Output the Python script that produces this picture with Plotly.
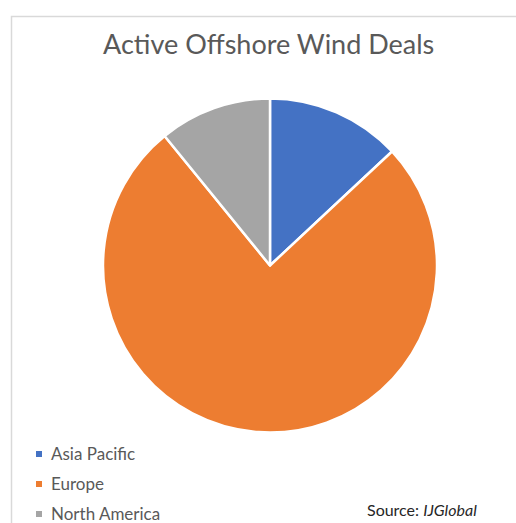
import plotly.graph_objects as go

# Deal counts by region
regions = ["Asia Pacific", "Europe", "North America"]
deals = [6, 35, 5]
colors = ["#4472C4", "#ED7D31", "#A5A5A5"]

W, H = 516, 523

def px(x):
    return x / W

def py(y):
    return 1 - y / H

cx, cy, r = 270, 265.5, 167

fig = go.Figure(
    go.Pie(
        labels=regions,
        values=deals,
        marker=dict(colors=colors, line=dict(color="white", width=2.5)),
        sort=False,
        direction="clockwise",
        rotation=0,
        textinfo="none",
        hoverinfo="label+value+percent",
        showlegend=False,
        domain=dict(x=[px(cx - r), px(cx + r)], y=[py(cy + r), py(cy - r)]),
    )
)

shapes = [
    # chart area frame
    dict(type="rect", xref="paper", yref="paper",
         x0=px(11.5), x1=px(W + 20), y0=py(H + 20), y1=py(16.5),
         line=dict(color="#D9D9D9", width=1.5), fillcolor="rgba(0,0,0,0)", layer="below"),
]
annotations = [
    dict(text="Active Offshore Wind Deals", xref="paper", yref="paper",
         x=px(268.5), y=py(43), xanchor="center", yanchor="middle", showarrow=False,
         font=dict(family="Lato", size=27, color="#595959")),
    dict(text="Source: <i>IJGlobal</i>", xref="paper", yref="paper",
         x=px(365), y=py(509), xanchor="left", yanchor="middle", showarrow=False,
         font=dict(family="Lato", size=16, color="#262626")),
]

# legend entries
row0, gap = 453, 30
for i, (name, col) in enumerate(zip(regions, colors)):
    yc = row0 + i * gap
    shapes.append(dict(type="rect", xref="paper", yref="paper",
                       x0=px(36), x1=px(42), y0=py(yc + 4), y1=py(yc - 2),
                       fillcolor=col, line=dict(width=0)))
    annotations.append(dict(text=name, xref="paper", yref="paper",
                            x=px(49), y=py(yc), xanchor="left", yanchor="middle",
                            showarrow=False,
                            font=dict(family="Lato", size=17, color="#595959")))

fig.update_layout(
    width=W, height=H,
    margin=dict(l=0, r=0, t=0, b=0, autoexpand=False),
    paper_bgcolor="white",
    plot_bgcolor="white",
    shapes=shapes,
    annotations=annotations,
)

fig.write_html("out.html")
